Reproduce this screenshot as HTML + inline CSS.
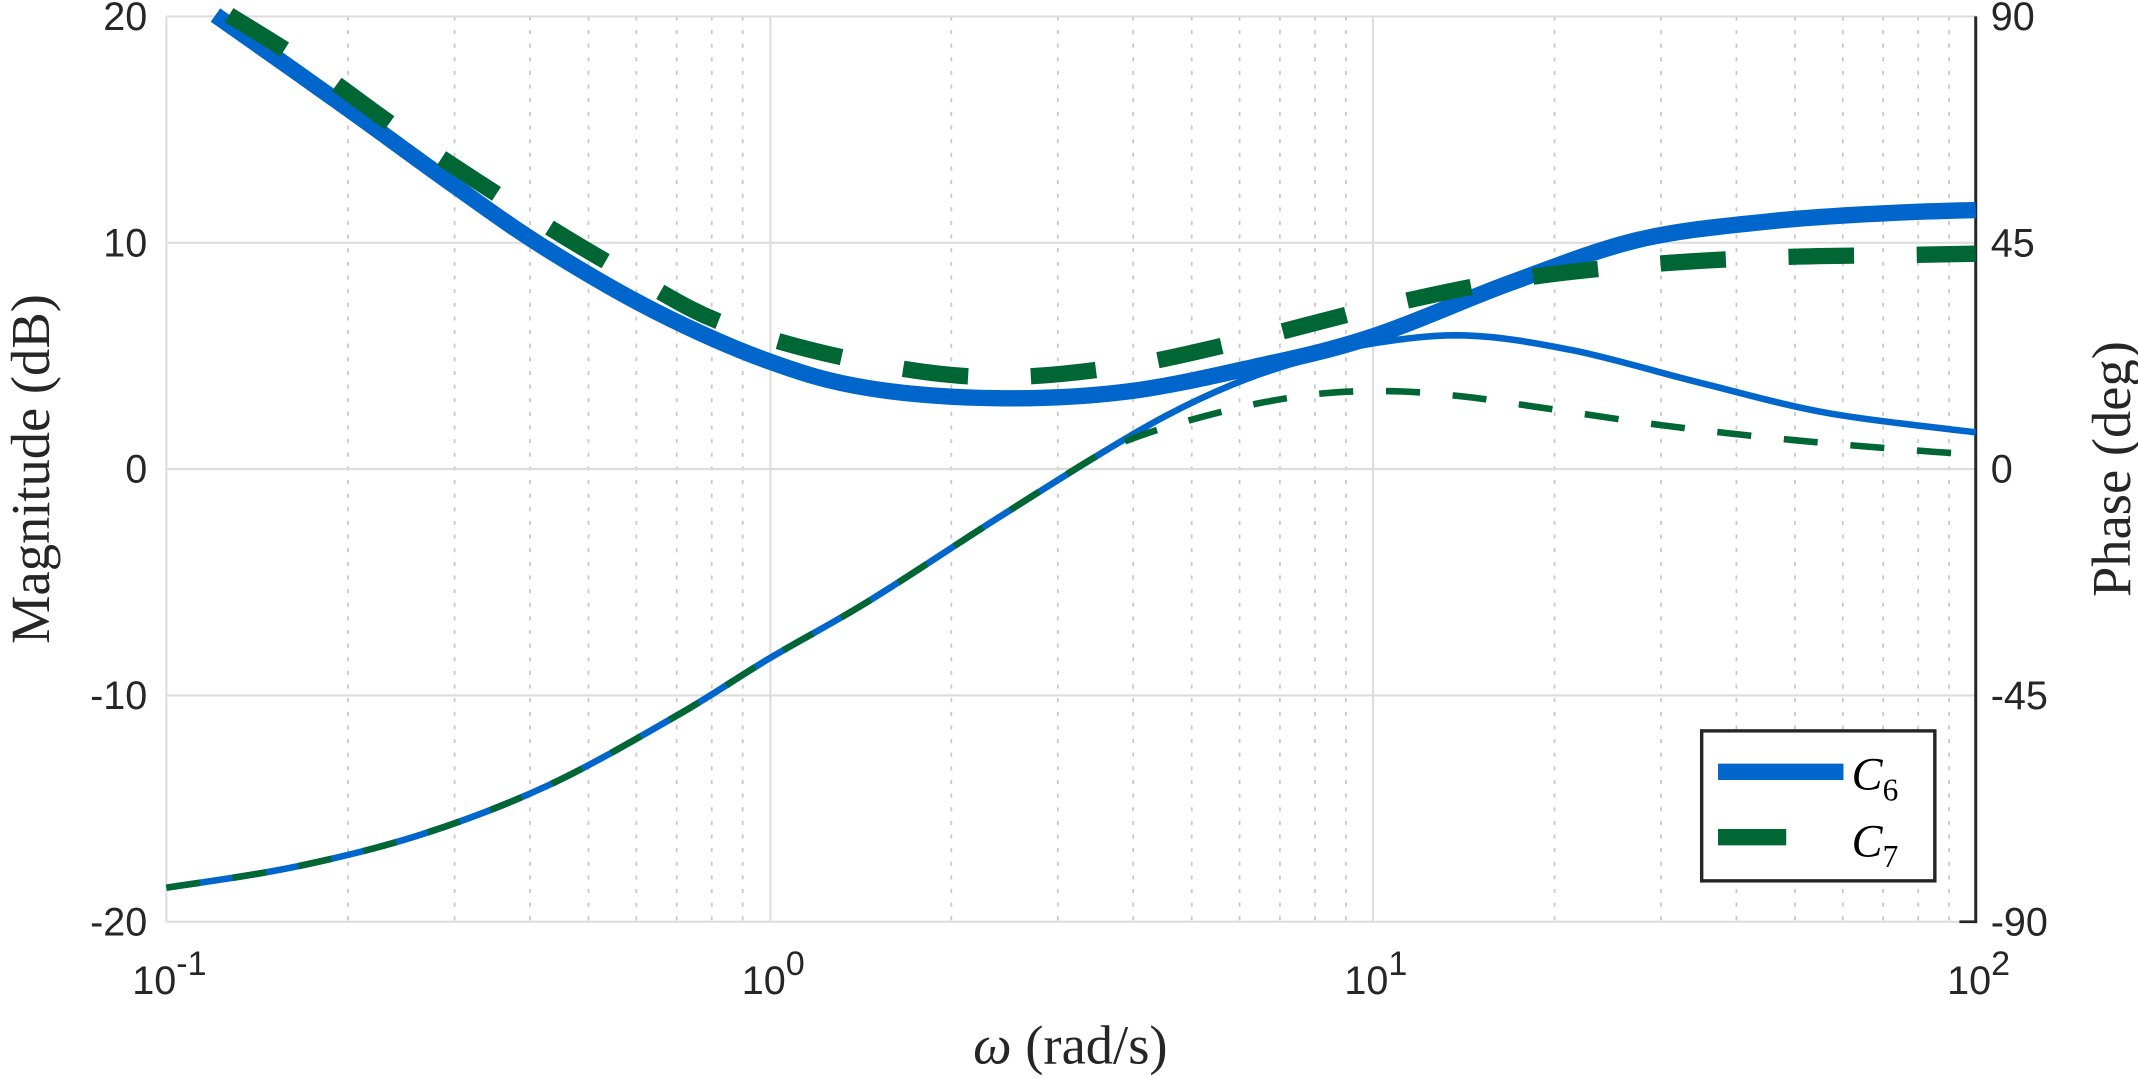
<!DOCTYPE html>
<html><head><meta charset="utf-8"><style>html,body{margin:0;padding:0;background:#fff}svg{display:block}</style></head>
<body>
<svg id="s" width="2138" height="1079" viewBox="0 0 1568 791.3" xmlns="http://www.w3.org/2000/svg">
<rect width="1568" height="791.3" fill="#fff"/>
<g stroke="#c8c8c8" stroke-width="1.3" stroke-dasharray="3,7">
<line x1="255.3" y1="12" x2="255.3" y2="676"/><line x1="333.4" y1="12" x2="333.4" y2="676"/><line x1="388.7" y1="12" x2="388.7" y2="676"/><line x1="431.6" y1="12" x2="431.6" y2="676"/><line x1="466.7" y1="12" x2="466.7" y2="676"/><line x1="496.3" y1="12" x2="496.3" y2="676"/><line x1="522" y1="12" x2="522" y2="676"/><line x1="544.7" y1="12" x2="544.7" y2="676"/>
<line x1="697.7" y1="12" x2="697.7" y2="676"/><line x1="775.8" y1="12" x2="775.8" y2="676"/><line x1="831.1" y1="12" x2="831.1" y2="676"/><line x1="874" y1="12" x2="874" y2="676"/><line x1="909.1" y1="12" x2="909.1" y2="676"/><line x1="938.7" y1="12" x2="938.7" y2="676"/><line x1="964.4" y1="12" x2="964.4" y2="676"/><line x1="987.1" y1="12" x2="987.1" y2="676"/>
<line x1="1140.1" y1="12" x2="1140.1" y2="676"/><line x1="1218.2" y1="12" x2="1218.2" y2="676"/><line x1="1273.5" y1="12" x2="1273.5" y2="676"/><line x1="1316.4" y1="12" x2="1316.4" y2="676"/><line x1="1351.5" y1="12" x2="1351.5" y2="676"/><line x1="1381.1" y1="12" x2="1381.1" y2="676"/><line x1="1406.8" y1="12" x2="1406.8" y2="676"/><line x1="1429.5" y1="12" x2="1429.5" y2="676"/>
</g>
<g stroke="#dcdcdc" stroke-width="1.5">
<line x1="565" y1="12" x2="565" y2="676"/><line x1="1007" y1="12" x2="1007" y2="676"/>
<line x1="122" y1="178" x2="1449" y2="178"/><line x1="122" y1="344" x2="1449" y2="344"/><line x1="122" y1="510" x2="1449" y2="510"/>
<line x1="122" y1="12" x2="1449" y2="12"/><line x1="122" y1="676" x2="1437" y2="676"/><line x1="122" y1="12" x2="122" y2="676"/>
</g>
<line x1="1449" y1="12" x2="1449" y2="677" stroke="#262626" stroke-width="2.2"/>
<line x1="1437" y1="676" x2="1449" y2="676" stroke="#262626" stroke-width="2"/>
<g font-family="Liberation Sans, sans-serif" font-size="29" fill="#262626">
<text x="108" y="22" text-anchor="end">20</text><text x="108" y="188" text-anchor="end">10</text><text x="108" y="354" text-anchor="end">0</text><text x="108" y="520" text-anchor="end">-10</text><text x="108" y="686" text-anchor="end">-20</text>
<text x="1460" y="22">90</text><text x="1460" y="188">45</text><text x="1460" y="354">0</text><text x="1460" y="520">-45</text><text x="1460" y="686">-90</text>
<text x="97" y="729">10<tspan dy="-14" font-size="25">-1</tspan></text>
<text x="544" y="729">10<tspan dy="-14" font-size="25">0</tspan></text>
<text x="986" y="729">10<tspan dy="-14" font-size="25">1</tspan></text>
<text x="1428" y="729">10<tspan dy="-14" font-size="25">2</tspan></text>
</g>
<g font-family="Liberation Serif, serif" font-size="40" fill="#262626">
<text transform="translate(36,344) rotate(-90)" text-anchor="middle">Magnitude (dB)</text>
<text transform="translate(1562,344) rotate(-90)" text-anchor="middle">Phase (deg)</text>
<text x="785" y="780" text-anchor="middle"><tspan font-style="italic">ω</tspan> (rad/s)</text>
</g>
<g fill="none" stroke-linejoin="round">
<path id="p1" stroke="#0066cc" stroke-width="4.8"/>
<path id="p2" stroke="#006633" stroke-width="4.8" stroke-dasharray="25,24"/>
<path id="p3" stroke="#0066cc" stroke-width="12"/>
<path id="p4" stroke="#006633" stroke-width="12" stroke-dasharray="48,46"/>
</g>
<rect x="1248" y="536" width="171" height="110" fill="#fff" stroke="#262626" stroke-width="2.5"/>
<line x1="1260" y1="566" x2="1352" y2="566" stroke="#0066cc" stroke-width="12"/>
<line x1="1260" y1="614" x2="1310" y2="614" stroke="#006633" stroke-width="12"/>
<g font-family="Liberation Serif, serif" font-size="34" fill="#000" font-style="italic">
<text x="1358" y="579">C<tspan font-size="23" font-style="normal" dy="8">6</tspan></text>
<text x="1358" y="628">C<tspan font-size="23" font-style="normal" dy="8">7</tspan></text>
</g>
</svg>
<script>
function cr(p){var d="M"+p[0][0]+","+p[0][1];for(var i=0;i<p.length-1;i++){var a=p[i-1]||p[i],b=p[i],c=p[i+1],e=p[i+2]||c;
d+=" C"+(b[0]+(c[0]-a[0])/6).toFixed(1)+","+(b[1]+(c[1]-a[1])/6).toFixed(1)+" "+(c[0]-(e[0]-b[0])/6).toFixed(1)+","+(c[1]-(e[1]-b[1])/6).toFixed(1)+" "+c[0]+","+c[1];}return d;}
var L=[[122,651],[215,636],[309,612],[402,576],[496,525],[564,483],[636,441.5],[730,381],[805,334]];
var P1=L.concat([[855,305],[904,282],[950,266],[1006,252],[1075,246],[1154,257],[1248,281],[1341,303],[1449,317]]);
var P2=L.concat([[835,320],[882,305.6],[929,294.6],[976,288],[1026,287],[1075,291],[1124,298],[1220,312],[1318,323],[1414,331],[1449,333]]);
var P3=[[158,11],[250,76],[333,136],[400,182],[480,228],[564,265],[636,284.5],[730,292],[824,287.5],[920,269],[1006,247],[1107.5,207.5],[1201,176],[1295,162.6],[1380,156.5],[1449,154]];
var P4=[[168,11],[230,50],[300,100],[400,165],[470,206],[533,238],[627,264],[723,276.5],[821,269],[916,249],[1011.7,225],[1107.5,205.4],[1203.5,194.4],[1302,188.7],[1397.6,187],[1449,186]];
document.getElementById("p1").setAttribute("d",cr(P1));
document.getElementById("p2").setAttribute("d",cr(P2));
document.getElementById("p3").setAttribute("d",cr(P3));
document.getElementById("p4").setAttribute("d",cr(P4));
</script>
</body></html>
